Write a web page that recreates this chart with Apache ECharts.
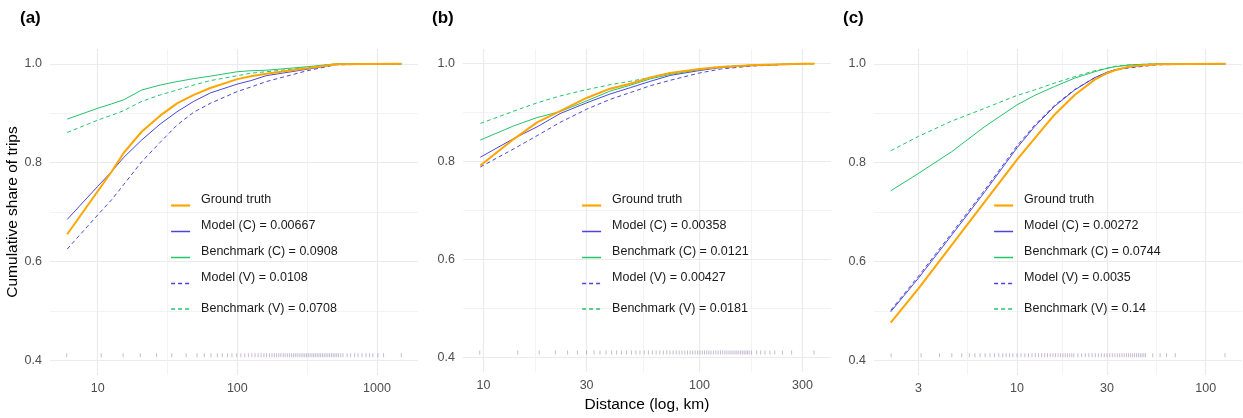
<!DOCTYPE html>
<html>
<head>
<meta charset="utf-8">
<title>Cumulative share of trips</title>
<script src="https://cdn.jsdelivr.net/npm/echarts@6/dist/echarts.min.js"></script>
<style>
  html, body { margin: 0; padding: 0; background: #fff; }
  #chart { width: 1243px; height: 418px; }
</style>
</head>
<body>
<div id="chart"></div>
<script>
// ---- data (distance in km, cumulative share) ----
var distA = [6.05, 10, 12.6, 15.3, 20.7, 28, 37, 48.7, 64, 100, 125, 161, 316, 509, 1493];
var truthA = [0.655, 0.742, 0.782, 0.819, 0.863, 0.895, 0.920, 0.937, 0.951, 0.969, 0.975, 0.980, 0.991, 0.999, 1.0];
var modelCA = [0.685, 0.752, 0.782, 0.810, 0.846, 0.878, 0.903, 0.924, 0.941, 0.959, 0.966, 0.976, 0.989, 0.999, 1.0];
var benchCA = [0.888, 0.910, 0.919, 0.927, 0.947, 0.957, 0.964, 0.970, 0.975, 0.984, 0.986, 0.987, 0.994, 1.0, 1.0];
var modelVA = [0.625, 0.694, 0.725, 0.755, 0.802, 0.841, 0.876, 0.902, 0.920, 0.944, 0.953, 0.964, 0.986, 0.998, 1.0];
var benchVA = [0.861, 0.886, 0.896, 0.905, 0.924, 0.937, 0.947, 0.957, 0.966, 0.976, 0.981, 0.984, 0.992, 1.0, 1.0];

var distB = [9.66, 13.8, 17.7, 22.6, 30, 38.5, 47.8, 59.2, 73.1, 100, 125, 173, 300, 340];
var truthB = [0.792, 0.846, 0.880, 0.903, 0.930, 0.949, 0.959, 0.972, 0.981, 0.989, 0.993, 0.997, 1.0, 1.0];
var modelCB = [0.809, 0.847, 0.871, 0.898, 0.920, 0.938, 0.951, 0.964, 0.976, 0.986, 0.992, 0.996, 1.0, 1.0];
var benchCB = [0.844, 0.873, 0.890, 0.902, 0.924, 0.944, 0.956, 0.969, 0.978, 0.988, 0.993, 0.997, 1.0, 1.0];
var modelVB = [0.789, 0.826, 0.853, 0.880, 0.907, 0.927, 0.941, 0.955, 0.966, 0.981, 0.989, 0.995, 1.0, 1.0];
var benchVB = [0.878, 0.903, 0.920, 0.934, 0.947, 0.957, 0.964, 0.972, 0.981, 0.989, 0.994, 0.997, 1.0, 1.0];

var distC = [2.14, 3, 4.5, 6.75, 10, 12.4, 15.8, 20.2, 25.8, 30, 33, 40, 55, 127];
var truthC = [0.476, 0.545, 0.633, 0.721, 0.806, 0.849, 0.897, 0.937, 0.968, 0.981, 0.987, 0.995, 0.999, 1.0];
var modelCC = [0.498, 0.566, 0.653, 0.741, 0.830, 0.873, 0.914, 0.947, 0.972, 0.983, 0.988, 0.994, 0.999, 1.0];
var benchCC = [0.743, 0.778, 0.822, 0.873, 0.917, 0.936, 0.954, 0.971, 0.984, 0.991, 0.994, 0.998, 1.0, 1.0];
var modelVC = [0.501, 0.570, 0.657, 0.745, 0.834, 0.876, 0.916, 0.948, 0.972, 0.982, 0.987, 0.992, 0.998, 1.0];
var benchVC = [0.824, 0.853, 0.884, 0.910, 0.936, 0.947, 0.961, 0.974, 0.986, 0.991, 0.995, 0.998, 1.0, 1.0];

// rug of observed distances along the bottom
var rugA = [6.0, 10.6, 15.2, 20.2, 26.4, 33.9, 43, 51.4, 58, 64.8, 71.9, 78, 85, 91.5, 99, 106, 113, 120, 127, 134,
  141, 148, 155, 162, 170, 177, 184, 191, 198, 205, 213, 220, 228, 236, 244, 252, 260, 268, 277, 286, 295, 304,
  313, 322, 332, 342, 352, 362, 373, 384, 395, 407, 419, 432, 445, 458, 472, 486, 500, 515, 530, 550, 571, 611,
  648, 692, 731, 781, 834, 885, 935, 1016, 1115, 1493];
var rugB = [9.6, 14.4, 18.1, 21.5, 24.5, 27.2, 30, 32.5, 34.6, 36.9, 39.2, 41.3, 43.5, 45.9, 48.4, 50.8, 53, 55.5,
  58, 60.5, 63, 65.5, 68, 70.5, 73, 75.5, 78, 80.5, 83, 85.5, 88, 90.5, 93, 95.5, 98, 100.5, 103, 105.5, 108,
  110.5, 113, 116, 119, 122, 125, 128, 131, 134, 137, 140, 143, 146, 149, 152, 155, 158, 161, 164, 167, 170, 174,
  184, 192, 201, 212, 223, 242, 267, 339];
var rugC = [2.15, 3.1, 3.88, 4.51, 5.09, 5.59, 5.98, 6.37, 6.77, 7.19, 7.59, 8.0, 8.4, 8.75, 9.12, 9.5, 10, 10.5,
  11, 11.5, 12, 12.5, 13, 13.5, 14, 14.5, 15, 15.5, 16, 16.5, 17, 17.5, 18, 18.5, 19, 19.5, 20, 21, 22, 23, 24,
  25, 26, 27, 28, 29, 30, 31, 32, 33, 34, 35, 36, 37, 38, 39, 40, 41, 42, 43, 44, 45, 46, 47, 48, 52.4, 57.3,
  62, 69, 126.5];

var namesA = ['Ground truth', 'Model (C) = 0.00667', 'Benchmark (C) = 0.0908', 'Model (V) = 0.0108', 'Benchmark (V) = 0.0708'];
var namesB = ['Ground truth', 'Model (C) = 0.00358', 'Benchmark (C) = 0.0121', 'Model (V) = 0.00427', 'Benchmark (V) = 0.0181'];
var namesC = ['Ground truth', 'Model (C) = 0.00272', 'Benchmark (C) = 0.0744', 'Model (V) = 0.0035', 'Benchmark (V) = 0.14'];

var xTicksA = [10, 100, 1000];
var xTicksB = [10, 30, 100, 300];
var xTicksC = [3, 10, 30, 100];
var yTicks = [0.4, 0.6, 0.8, 1.0];
var yMinor = [0.5, 0.7, 0.9];

// ---- styling ----
var FONT = '"Liberation Sans", Arial, sans-serif';
var lineStyles = [
  { color: '#FFA500', width: 2, type: 'solid' },
  { color: '#4B47D4', width: 1, type: 'solid' },
  { color: '#23C46B', width: 1, type: 'solid' },
  { color: '#4B47D4', width: 1, type: [4, 3] },
  { color: '#23C46B', width: 1, type: [4, 3] }
];

var panels = [
  { tag: '(a)', left: 50, tagLeft: 20, legendLeft: 170, dist: distA, ticks: xTicksA, rug: rugA, names: namesA,
    lines: [truthA, modelCA, benchCA, modelVA, benchVA] },
  { tag: '(b)', left: 463, tagLeft: 432, legendLeft: 581, dist: distB, ticks: xTicksB, rug: rugB, names: namesB,
    lines: [truthB, modelCB, benchCB, modelVB, benchVB] },
  { tag: '(c)', left: 874, tagLeft: 843, legendLeft: 993, dist: distC, ticks: xTicksC, rug: rugC, names: namesC,
    lines: [truthC, modelCC, benchCC, modelVC, benchVC] }
];

var PW = 368, PT = 49, PH = 326;
var Y_MIN = 0.37, Y_MAX = 1.03, RUG_Y = 0.41;

function lg(v) { return Math.log10(v); }

var option = {
  backgroundColor: '#fff',
  animation: false,
  title: [],
  legend: [],
  grid: [],
  xAxis: [],
  yAxis: [],
  series: []
};

panels.forEach(function (p, i) {
  // x range in log10 space, expanded by 5% like ggplot
  var all = p.dist.concat(p.rug);
  var lo = lg(Math.min.apply(null, all));
  var hi = lg(Math.max.apply(null, all));
  var pad = (hi - lo) * 0.05;
  var major = p.ticks.map(lg);
  var minor = [];
  for (var k = 1; k < major.length; k++) minor.push((major[k - 1] + major[k]) / 2);

  option.title.push({
    text: p.tag, left: p.tagLeft, top: 10, padding: 0,
    textStyle: { fontFamily: FONT, fontSize: 17, fontWeight: 'bold', color: '#000' }
  });

  option.grid.push({ left: p.left, top: PT, width: PW, height: PH });

  // major x axis with labels
  option.xAxis.push({
    type: 'value', gridIndex: i, position: 'bottom', min: lo - pad, max: hi + pad,
    axisLine: { show: false }, axisTick: { show: false, customValues: major },
    axisLabel: {
      customValues: major, margin: 7, color: '#4D4D4D', fontFamily: FONT, fontSize: 12.5,
      formatter: function (v) { return String(Math.round(Math.pow(10, v))); }
    },
    splitLine: { lineStyle: { color: '#EBEBEB', width: 1.2 } },
    name: i === 1 ? 'Distance (log, km)' : '', nameLocation: 'middle', nameGap: 24,
    nameTextStyle: { fontFamily: FONT, fontSize: 15.5, color: '#000' }
  });
  // minor x gridlines
  option.xAxis.push({
    type: 'value', gridIndex: i, position: 'top', min: lo - pad, max: hi + pad,
    axisLine: { show: false }, axisTick: { show: false, customValues: minor },
    axisLabel: { show: false, customValues: minor },
    splitLine: { lineStyle: { color: '#F0F0F0', width: 0.8 } }
  });

  option.yAxis.push({
    type: 'value', gridIndex: i, min: Y_MIN, max: Y_MAX,
    axisLine: { show: false }, axisTick: { show: false, customValues: yTicks },
    axisLabel: {
      customValues: yTicks, margin: 8, color: '#4D4D4D', fontFamily: FONT, fontSize: 12.5,
      formatter: function (v) { return v.toFixed(1); }
    },
    splitLine: { lineStyle: { color: '#EBEBEB', width: 1.2 } },
    name: i === 0 ? 'Cumulative share of trips' : '', nameLocation: 'middle', nameGap: 26,
    nameTextStyle: { fontFamily: FONT, fontSize: 15.5, color: '#000' }
  });
  option.yAxis.push({
    type: 'value', gridIndex: i, position: 'right', min: Y_MIN, max: Y_MAX,
    axisLine: { show: false }, axisTick: { show: false, customValues: yMinor },
    axisLabel: { show: false, customValues: yMinor },
    splitLine: { lineStyle: { color: '#F0F0F0', width: 0.8 } }
  });

  // rug
  option.series.push({
    type: 'scatter', xAxisIndex: 2 * i, yAxisIndex: 2 * i, silent: true,
    symbol: 'rect', symbolSize: [1, 4],
    itemStyle: { color: 'rgba(120, 100, 150, 0.55)' },
    data: p.rug.map(function (d) { return [lg(d), RUG_Y]; })
  });

  // the five curves
  p.lines.forEach(function (vals, j) {
    option.series.push({
      name: p.names[j], type: 'line', xAxisIndex: 2 * i, yAxisIndex: 2 * i,
      symbol: 'none', smooth: false, z: j === 0 ? 3 : 2,
      itemStyle: { color: lineStyles[j].color },
      lineStyle: lineStyles[j],
      data: vals.map(function (v, m) { return [lg(p.dist[m]), v]; })
    });
  });

  // legend: label sits a little above its key, except the last row
  option.legend.push({
    orient: 'vertical', left: p.legendLeft, top: 193, padding: 0,
    itemWidth: 19, itemHeight: 12, itemGap: 1, selectedMode: false,
    textStyle: { fontFamily: FONT, fontSize: 12.5, color: '#1A1A1A', lineHeight: 12 },
    formatter: function (n) { return n.indexOf('Benchmark (V)') === 0 ? n : n + '\n '; },
    data: p.names.map(function (n, j) {
      return {
        name: n,
        itemStyle: { opacity: 0 },
        lineStyle: { color: lineStyles[j].color, width: j === 0 ? 2.2 : 1.5, type: lineStyles[j].type },
        textStyle: { padding: j < 4 ? [0, 0, 0, 6] : [6, 0, 6, 6] }
      };
    })
  });
});

var chart = echarts.init(document.getElementById('chart'));
chart.setOption(option);
window.addEventListener('resize', function () { chart.resize(); });
</script>
</body>
</html>
